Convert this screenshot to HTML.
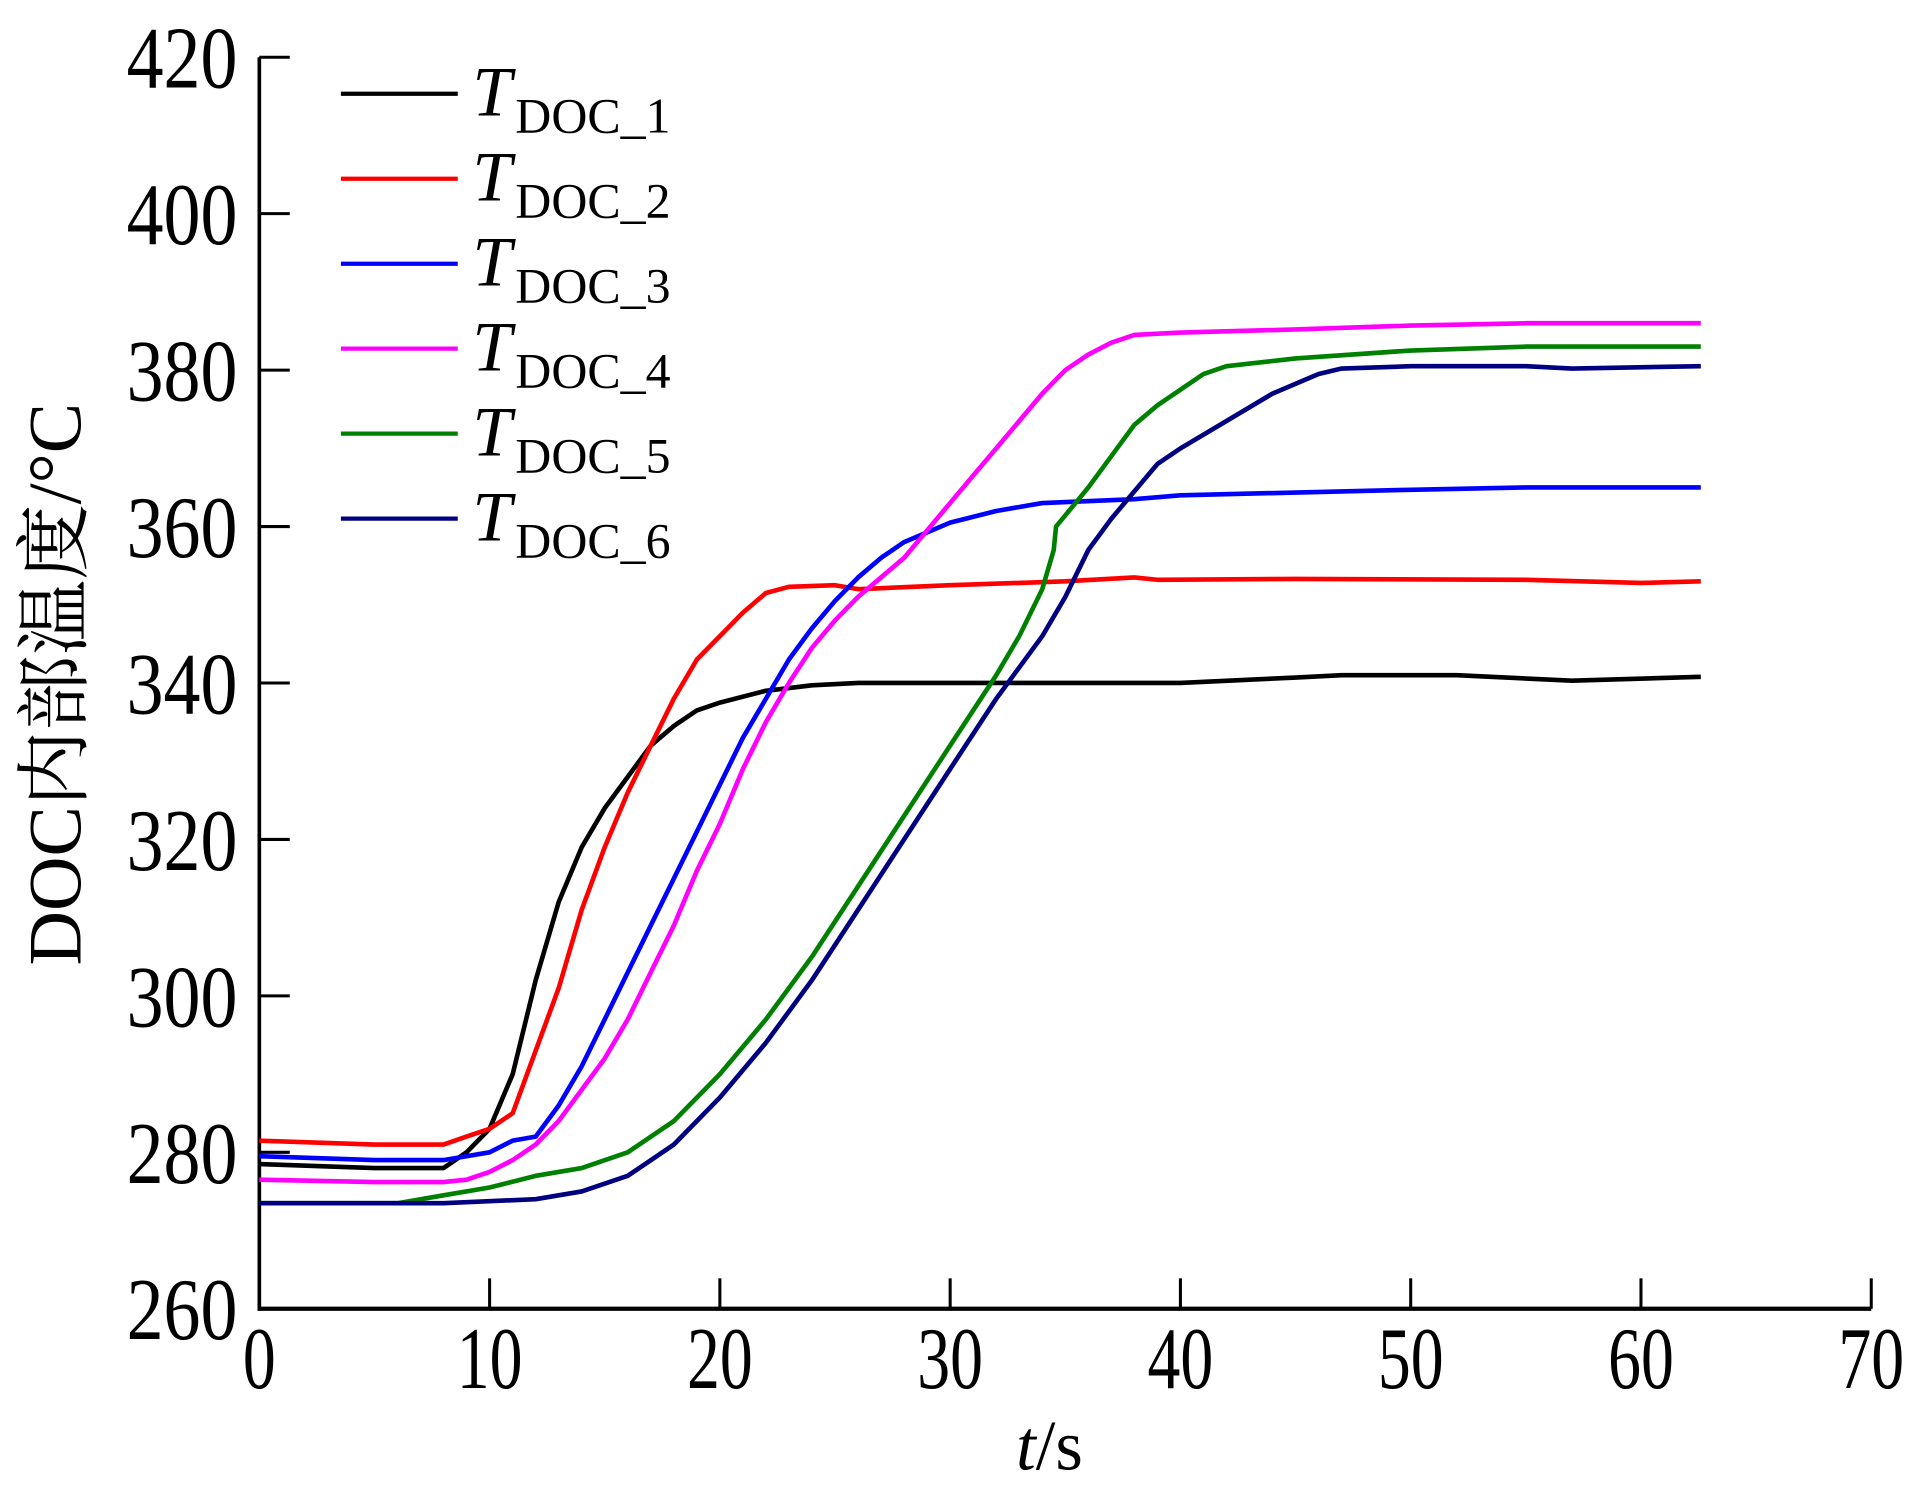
<!DOCTYPE html>
<html><head><meta charset="utf-8"><style>
html,body{margin:0;padding:0;background:#fff;}
svg{display:block;}
text{font-family:"Liberation Serif","Noto Serif CJK SC",serif;fill:#000;}
</style></head><body>
<svg id="chart" width="1909" height="1492" viewBox="0 0 1568 1225.5" xmlns="http://www.w3.org/2000/svg">
<g id="axes"></g>
<g id="series"></g>
<g id="legend"></g>
<text transform="translate(66,562) rotate(-90)" text-anchor="middle" font-size="62">DOC内部温度/°C</text>
<text x="862" y="1207" text-anchor="middle" font-size="58"><tspan font-style="italic">t</tspan>/s</text>
</svg>
<script>
const xTicks=[0,10,20,30,40,50,60,70];
const yTicks=[260,280,300,320,340,360,380,400,420];
const seriesNames=["DOC_1","DOC_2","DOC_3","DOC_4","DOC_5","DOC_6"];
const seriesColors=["#000000","#ff0000","#0000ff","#ff00ff","#008000","#000080"];
const t1=[0,5,8,9,10,11,12,13,14,15,16,17,18,19,20,22,24,26,30,35,40,45,47,52,57,62.6];
const v1=[278.5,278,278,280,283,290,302,312,319,324,328,332,334.5,336.5,337.5,339,339.7,340,340,340,340,340.7,341,341,340.3,340.8];
const t2=[0,5,8,9,10,11,12,13,14,15,16,17,18,19,20,21,22,23,25,26,30,35,38,39,45,55,60,62.6];
const v2=[281.5,281,281,282,283,285,293,301,311,319,326,332,338,343,346,349,351.5,352.3,352.5,352,352.5,353,353.5,353.2,353.3,353.2,352.8,353];
const t3=[0,5,8,10,11,12,13,14,15,16,17,18,19,20,21,22,23,24,25,26,27,28,30,32,34,38,40,50,55,62.6];
const v3=[279.5,279,279,280,281.5,282,286,291,297,303,309,315,321,327,333,338,343,347,350.5,353.5,356,358,360.5,362,363,363.5,364,364.7,365,365];
const t4=[0,5,8,9,10,11,12,13,14,15,16,17,18,19,20,21,22,23,24,25,26,27,28,29,30,31,32,33,34,35,36,37,38,40,45,50,55,62.6];
const v4=[276.5,276.2,276.2,276.5,277.5,279,281,284,288,292,297,303,309,316,322,329,335,340,344.5,348,351,353.5,356,359.5,363,366.5,370,373.5,377,380,382,383.5,384.5,384.8,385.2,385.7,386,386];
const t5=[0,6,8,10,12,14,16,18,20,22,24,26,28,30,32,33,34,34.5,34.6,36,37,38,39,40,41,42,45,50,55,62.6];
const v5=[273.5,273.5,274.5,275.5,277,278,280,284,290,297,305,314,323,332,341,346,352,357,360,365,369,373,375.5,377.5,379.5,380.5,381.5,382.5,383,383];
const t6=[0,8,12,14,16,18,20,22,24,26,28,30,32,34,35,36,37,38,39,40,42,44,46,47,50,55,57,62.6];
const v6=[273.5,273.5,274,275,277,281,287,294,302,311,320,329,338,346,351,357,361,364.5,368,370,373.5,377,379.5,380.2,380.5,380.5,380.2,380.5];
const allT=[t1,t2,t3,t4,t5,t6], allV=[v1,v2,v3,v4,v5,v6];

const X0=213,X1=1537,Y0=1075,Y1=47;
function xs(t){return X0+(t-0)/(70-0)*(X1-X0);}
function ys(v){return Y0-(v-260)/(420-260)*(Y0-Y1);}
const NS="http://www.w3.org/2000/svg";
function mk(tag,attrs,parent){const e=document.createElementNS(NS,tag);for(const k in attrs)e.setAttribute(k,attrs[k]);parent.appendChild(e);return e;}

const ax=document.getElementById('axes');
let e=mk('line',{x1:X0,y1:Y1,x2:X0,y2:Y0+1.5,stroke:'#000','stroke-width':3},ax);


e=mk('line',{x1:X0-1.5,y1:Y0,x2:X1,y2:Y0,stroke:'#000','stroke-width':3.5},ax);


xTicks.forEach(t=>{
  const l=mk('line',{x1:xs(t),y1:Y0,x2:xs(t),y2:Y0-25,stroke:'#000','stroke-width':2.5},ax);
  
  
  const s=String(t);
  const tx=mk('text',{x:xs(t),y:1140,'text-anchor':'middle','font-size':72,textLength:s.length*27,lengthAdjust:'spacingAndGlyphs'},ax);
  tx.textContent=t;
  
  
});
yTicks.forEach(v=>{
  const l=mk('line',{x1:X0,y1:ys(v),x2:X0+25,y2:ys(v),stroke:'#000','stroke-width':2.5},ax);
  
  
  const tx=mk('text',{x:104,y:ys(v)+25,'font-size':72,textLength:91,lengthAdjust:'spacingAndGlyphs'},ax);
  tx.textContent=v;
  
  
});

const sg=document.getElementById('series');
allT.forEach((ts,i)=>{
  const d=ts.map((t,j)=>(j?'L':'M')+xs(t).toFixed(1)+','+ys(allV[i][j]).toFixed(1)).join(' ');
  const p=mk('path',{d:d,fill:'none',stroke:seriesColors[i],'stroke-width':3.8,'stroke-linejoin':'round'},sg);
  
  
});

const lg=document.getElementById('legend');
seriesNames.forEach((n,i)=>{
  const y=77+i*69.8;
  const l=mk('line',{x1:280,y1:y,x2:376,y2:y,stroke:seriesColors[i],'stroke-width':3.5},lg);
  
  
  const tx=mk('text',{x:388,y:y+18,'font-size':58},lg);
  
  
  const a=mk('tspan',{'font-style':'italic'},tx);a.textContent='T';
  const b=mk('tspan',{'font-size':41,dy:14,dx:3},tx);b.textContent=n;
});
</script>
</body></html>
